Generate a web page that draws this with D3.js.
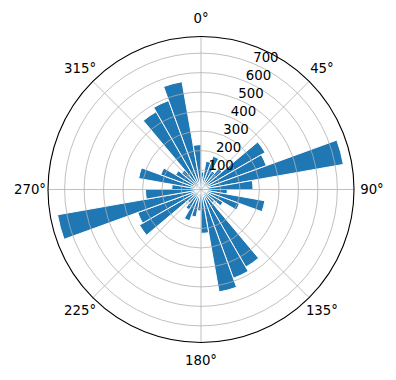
<!DOCTYPE html>
<html>
<head>
<meta charset="utf-8">
<script src="https://cdn.jsdelivr.net/npm/d3@7"></script>
<style>
body { margin: 0; background: #fff; }
text { font-family: "DejaVu Sans", sans-serif; font-size: 13.3px; fill: #000; }
</style>
</head>
<body>
<script>

// bin centres (degrees, clockwise from north) and counts
var directions = [5, 15, 25, 35, 45, 55, 65, 75, 85, 95, 105, 115,
                  125, 135, 145, 155, 165, 175, 185, 195, 205, 215, 225, 235,
                  245, 255, 265, 275, 285, 295, 305, 315, 325, 335, 345, 355];
var counts = [90, 147, 182, 110, 140, 380, 357, 742, 267, 135, 333, 210,
              130, 90, 460, 485, 534, 225, 110, 143, 171, 120, 90, 365,
              346, 748, 285, 150, 325, 220, 150, 130, 461, 486, 562, 230];
var binWidth = 10;
var rTicks = [100, 200, 300, 400, 500, 600, 700];
var thetaTicks = [0, 45, 90, 135, 180, 225, 270, 315];

var width = 396,
    height = 380,
    cx = 201,
    cy = 189.5,
    outer = 153;

var rad = Math.PI / 180;

var svg = d3.select("body")
  .append("svg")
  .attr("width", width)
  .attr("height", height);

var g = svg.append("g")
  .attr("transform", "translate(" + cx + "," + cy + ")");

var r = d3.scaleLinear()
    .domain([0, d3.max(counts) * 1.05])
    .range([0, outer]);

var arc = d3.arc()
    .innerRadius(0)
    .outerRadius(function(d) { return r(d.v); })
    .startAngle(function(d) { return (d.a - binWidth / 2) * rad; })
    .endAngle(function(d) { return (d.a + binWidth / 2) * rad; });

var bins = directions.map(function(a, i) { return {a: a, v: counts[i]}; });

g.selectAll(".bar")
  .data(bins)
  .enter()
  .append("path")
  .attr("class", "bar")
  .attr("d", arc)
  .attr("fill", "#1f77b4")
  .attr("stroke", "#fff")
  .attr("stroke-width", 1);

// grid on top of the bars, like matplotlib polar axes
g.selectAll(".ring")
  .data(rTicks)
  .enter()
  .append("circle")
  .attr("r", function(d) { return r(d); })
  .attr("fill", "none")
  .attr("stroke", "#b0b0b0")
  .attr("stroke-width", 0.8);

g.selectAll(".spoke")
  .data(thetaTicks)
  .enter()
  .append("line")
  .attr("x1", 0)
  .attr("y1", 0)
  .attr("x2", function(d) { return outer * Math.sin(d * rad); })
  .attr("y2", function(d) { return -outer * Math.cos(d * rad); })
  .attr("stroke", "#b0b0b0")
  .attr("stroke-width", 0.8);

g.append("circle")
  .attr("r", outer)
  .attr("fill", "none")
  .attr("stroke", "#000")
  .attr("stroke-width", 1.1);

// radial labels along 22.5 degrees
g.selectAll(".rlabel")
  .data(rTicks)
  .enter()
  .append("text")
  .attr("x", function(d) { return r(d) * Math.sin(22.5 * rad); })
  .attr("y", function(d) { return -r(d) * Math.cos(22.5 * rad) - 1.5; })
  .text(function(d) { return d; });

g.selectAll(".tlabel")
  .data(thetaTicks)
  .enter()
  .append("text")
  .attr("x", function(d) { return 171 * Math.sin(d * rad); })
  .attr("y", function(d) { return -171 * Math.cos(d * rad); })
  .attr("text-anchor", "middle")
  .attr("dominant-baseline", "central")
  .text(function(d) { return d + "°"; });

</script>
</body>
</html>
